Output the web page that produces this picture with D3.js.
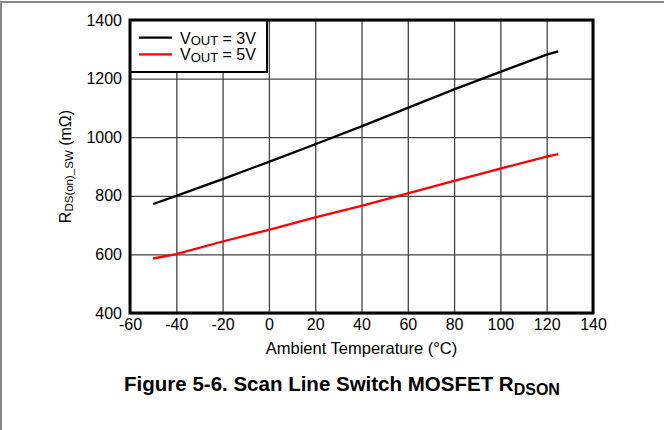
<!DOCTYPE html>
<html>
<head>
<meta charset="utf-8">
<script src="https://cdn.jsdelivr.net/npm/d3@7"></script>
<style>
body { margin: 0; background: #fff; }
svg text { font-family: "Liberation Sans", Arial, sans-serif; fill: #000; }
.grid line { stroke: #444; stroke-width: 1.3; }
.grid path { display: none; }
.axis path, .axis line { display: none; }
.axis text { font-size: 16px; }
</style>
</head>
<body>
<svg id="chart" width="664" height="430"></svg>
<script>
// values
var temps = [-50, -40, -20, 0, 20, 40, 60, 80, 100, 120, 125];
var rds3v = [772, 800, 857, 916, 976, 1037, 1100, 1163, 1223, 1282, 1293];
var rds5v = [586, 601, 644, 684, 726, 766, 808, 851, 893, 934, 942];
var xTicks = [-60, -40, -20, 0, 20, 40, 60, 80, 100, 120, 140];
var yTicks = [400, 600, 800, 1000, 1200, 1400];
var seriesLabels = ["3V", "5V"];
var seriesColors = ["#000000", "#ff0000"];

var svg = d3.select("#chart"),
    margin = { top: 20, right: 71, bottom: 117, left: 130 },
    width = +svg.attr("width") - margin.left - margin.right,
    height = +svg.attr("height") - margin.top - margin.bottom;

var x = d3.scaleLinear().domain([-60, 140]).range([0, width]),
    y = d3.scaleLinear().domain([400, 1400]).range([height, 0]);

var plain = function (d) { return String(d); };

// page border (top and left edges of the scanned figure)
svg.append("line").attr("x1", 0).attr("x2", 664).attr("y1", 2).attr("y2", 2)
    .attr("stroke", "#888").attr("stroke-width", 2);
svg.append("line").attr("x1", 1).attr("x2", 1).attr("y1", 2).attr("y2", 430)
    .attr("stroke", "#888").attr("stroke-width", 2);

var g = svg.append("g")
    .attr("transform", "translate(" + margin.left + "," + margin.top + ")");

// grid
g.append("g")
    .attr("class", "grid")
    .attr("transform", "translate(0," + height + ")")
    .call(d3.axisBottom(x).tickValues(xTicks).tickSize(-height).tickFormat(""));
g.append("g")
    .attr("class", "grid")
    .call(d3.axisLeft(y).tickValues(yTicks).tickSize(-width).tickFormat(""));

// axes labels
g.append("g")
    .attr("class", "axis")
    .attr("transform", "translate(0," + height + ")")
    .call(d3.axisBottom(x).tickValues(xTicks).tickSize(0).tickPadding(6).tickFormat(plain));
g.append("g")
    .attr("class", "axis")
    .call(d3.axisLeft(y).tickValues(yTicks).tickSize(0).tickPadding(8).tickFormat(plain));

// lines
var seriesData = [rds3v, rds5v];
var line = d3.line()
    .x(function (d, i) { return x(temps[i]); })
    .y(function (d) { return y(d); });

seriesData.forEach(function (vals, i) {
    g.append("path")
        .datum(vals)
        .attr("fill", "none")
        .attr("stroke", seriesColors[i])
        .attr("stroke-width", 2.3)
        .attr("d", line);
});

// legend
var legend = g.append("g");
legend.append("rect")
    .attr("x", 0).attr("y", 0)
    .attr("width", 137).attr("height", 52)
    .attr("fill", "#fff").attr("stroke", "#000").attr("stroke-width", 2);

seriesLabels.forEach(function (lab, i) {
    var ly = 17.7 + i * 16.6;
    legend.append("line")
        .attr("x1", 9).attr("x2", 42).attr("y1", ly).attr("y2", ly)
        .attr("stroke", seriesColors[i]).attr("stroke-width", 2.3);
    var t = legend.append("text")
        .attr("x", 50).attr("y", ly + 5.8)
        .style("font-size", "16px");
    t.append("tspan").text("V");
    t.append("tspan").attr("dy", 1.5).style("font-size", "13px").text("OUT");
    t.append("tspan").attr("dy", -1.5).text(" = " + lab);
});

// frame
g.append("rect")
    .attr("width", width).attr("height", height)
    .attr("fill", "none").attr("stroke", "#000").attr("stroke-width", 3);

// x axis title
svg.append("text")
    .attr("x", margin.left + width / 2)
    .attr("y", 354)
    .attr("text-anchor", "middle")
    .style("font-size", "16.5px")
    .text("Ambient Temperature (°C)");

// y axis title
var yt = svg.append("text")
    .attr("transform", "translate(71," + (margin.top + height / 2) + ") rotate(-90)")
    .attr("text-anchor", "middle")
    .style("font-size", "16px");
yt.append("tspan").text("R");
yt.append("tspan").attr("dy", 2).style("font-size", "11.5px").text("DS(on)_SW");
yt.append("tspan").attr("dy", -2).text(" (mΩ)");

// figure caption
var cap = svg.append("text")
    .attr("x", 342)
    .attr("y", 391)
    .attr("text-anchor", "middle")
    .style("font-size", "20.5px")
    .style("font-weight", "bold");
cap.append("tspan").text("Figure 5-6. Scan Line Switch MOSFET R");
cap.append("tspan").attr("dy", 4).style("font-size", "16px").text("DSON");
</script>
</body>
</html>
